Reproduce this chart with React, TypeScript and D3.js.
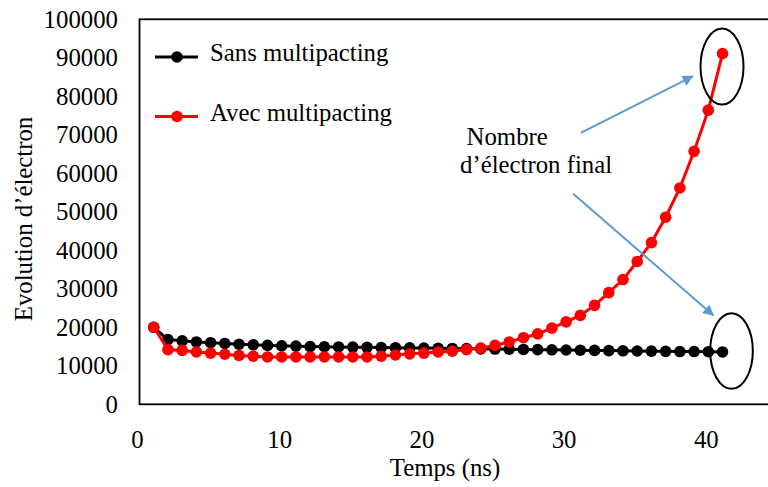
import React from "react";
import * as d3 from "d3";

const times: number[] = d3.range(1, 42);
const sansMultipacting: number[] = [
  20000, 16800, 16500, 16200, 16000, 15800, 15600, 15450, 15300, 15200,
  15100, 15000, 14950, 14900, 14850, 14800, 14750, 14700, 14650, 14600,
  14550, 14500, 14450, 14400, 14350, 14300, 14250, 14200, 14150, 14100,
  14050, 14000, 13950, 13900, 13850, 13800, 13750, 13700, 13700, 13650,
  13600,
];
const avecMultipacting: number[] = [
  20000, 14200, 14000, 13600, 13300, 13000, 12700, 12500, 12300, 12300,
  12300, 12300, 12300, 12300, 12300, 12300, 12500, 12800, 13100, 13300,
  13600, 13800, 14200, 14600, 15300, 16200, 17300, 18300, 19800, 21400,
  23100, 25700, 29000, 32400, 37100, 42000, 48600, 56200, 65700, 76400,
  91100,
];
const xTicks: number[] = [0, 10, 20, 30, 40];
const yTicks: number[] = d3.range(0, 100001, 10000);
const seriesNames: string[] = ["Sans multipacting", "Avec multipacting"];
const seriesColors: string[] = ["#000000", "#FF0000"];

const FONT = '"Liberation Serif", "DejaVu Serif", serif';
const FS = 24.8;

export default function App() {
  const W = 768;
  const H = 487;
  const x = d3.scaleLinear().domain([0, 45]).range([139.5, 779.4]);
  const y = d3.scaleLinear().domain([0, 100000]).range([404.3, 19.3]);

  const series = [sansMultipacting, avecMultipacting];
  const line = d3
    .line<number>()
    .x((_, i) => x(times[i]))
    .y((d) => y(d));

  const lastX = x(times[times.length - 1]);
  const lastRed = y(avecMultipacting[avecMultipacting.length - 1]);
  const lastBlack = y(sansMultipacting[sansMultipacting.length - 1]);
  const arrowColor = "#5B9BD5";
  const ts: React.CSSProperties = { fontFamily: FONT, fontSize: FS };
  const R = 5.8;

  return (
    <svg
      width={W}
      height={H}
      style={{ position: "absolute", left: 0, top: 0, background: "#fff", fontFamily: FONT }}
    >
      <defs>
        <marker
          id="ah"
          viewBox="0 0 10 10"
          refX="9"
          refY="5"
          markerWidth="6"
          markerHeight="5.5"
          orient="auto"
          markerUnits="strokeWidth"
        >
          <path d="M0,0 L10,5 L0,10 z" fill={arrowColor} />
        </marker>
      </defs>
      <rect
        x={x(0)}
        y={y(100000)}
        width={x(45) - x(0)}
        height={y(0) - y(100000)}
        fill="none"
        stroke="#000"
        strokeWidth={1.8}
      />
      {yTicks.map((t) => (
        <text
          key={"y" + t}
          x={118}
          y={y(t)}
          dy="0.35em"
          textAnchor="end"
          style={ts}
          fill="#000"
        >
          {t}
        </text>
      ))}
      {xTicks.map((t) => (
        <text
          key={"x" + t}
          x={x(t) - 2}
          y={448}
          textAnchor="middle"
          style={ts}
          fill="#000"
        >
          {t}
        </text>
      ))}
      <text x={445} y={476} textAnchor="middle" style={ts} fill="#000">
        Temps (ns)
      </text>
      <text
        transform={`translate(32,219) rotate(-90)`}
        textAnchor="middle"
        style={ts}
        fill="#000"
      >
        Evolution d’électron
      </text>
      {series.map((s, k) => (
        <g key={"s" + k}>
          <path
            d={line(s) || ""}
            fill="none"
            stroke={seriesColors[k]}
            strokeWidth={3}
          />
          {s.map((v, i) => (
            <circle
              key={i}
              cx={x(times[i])}
              cy={y(v)}
              r={R}
              fill={seriesColors[k]}
            />
          ))}
        </g>
      ))}
      {seriesNames.map((n, k) => {
        const ly = k === 0 ? 57 : 116.5;
        return (
          <g key={"l" + k}>
            <line
              x1={155}
              x2={198}
              y1={ly}
              y2={ly}
              stroke={seriesColors[k]}
              strokeWidth={3}
            />
            <circle cx={177} cy={ly} r={R} fill={seriesColors[k]} />
            <text x={210} y={ly + 4} style={ts} fill="#000">
              {n}
            </text>
          </g>
        );
      })}
      <text x={x(23.0)} y={y(67300)} style={ts} fill="#000">
        Nombre
      </text>
      <text x={x(22.54)} y={y(60000)} style={ts} fill="#000">
        d’électron final
      </text>
      <line
        x1={x(31.03)}
        y1={y(70500)}
        x2={x(38.9)}
        y2={y(85200)}
        stroke={arrowColor}
        strokeWidth={2}
        markerEnd="url(#ah)"
      />
      <line
        x1={x(30.5)}
        y1={y(54700)}
        x2={x(40.35)}
        y2={y(23100)}
        stroke={arrowColor}
        strokeWidth={2}
        markerEnd="url(#ah)"
      />
      <ellipse
        cx={lastX - 0.5}
        cy={lastRed + 13}
        rx={21.5}
        ry={38}
        fill="none"
        stroke="#000"
        strokeWidth={2}
      />
      <ellipse
        cx={lastX + 9}
        cy={lastBlack - 1}
        rx={21.3}
        ry={37.8}
        fill="none"
        stroke="#000"
        strokeWidth={2}
      />
    </svg>
  );
}
